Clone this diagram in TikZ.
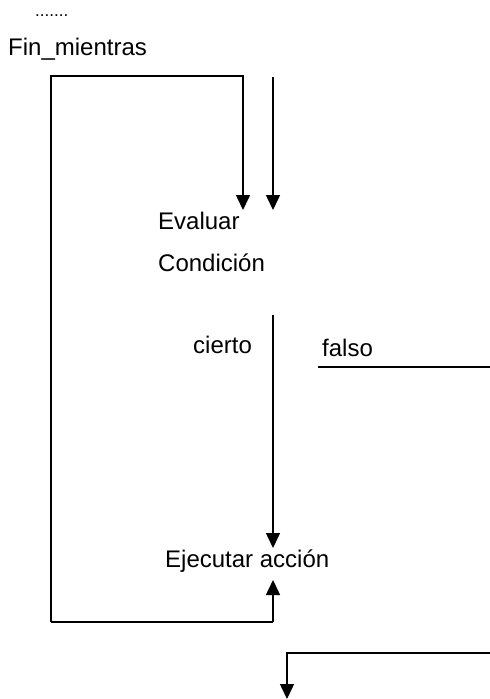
\documentclass[tikz,border=0pt]{standalone}
\usepackage{fontspec}
\setmainfont{Liberation Sans}
\usetikzlibrary{arrows.meta}
\begin{document}
\begin{tikzpicture}[x=1pt,y=-1pt,
  lbl/.style={anchor=base west,inner sep=0pt,font=\fontsize{24}{27}\selectfont},
  wire/.style={line width=1.5pt,line cap=butt},
  arr/.style={wire,-{Triangle[length=15pt,width=14pt]}}]
\useasboundingbox (0,0) rectangle (490,699);
\node[lbl,font=\fontsize{17}{19}\selectfont] (dots) at (35,16) {.......};
\node[lbl] (fin) at (8,55) {Fin\_mientras};
\node[lbl] (eval) at (158,229) {Evaluar};
\node[lbl] (cond) at (158,271) {Condición};
\node[lbl] (cierto) at (193,353) {cierto};
\node[lbl] (falso) at (322,356) {falso};
\node[lbl] (ejec) at (165,567) {Ejecutar acción};
% loop back
\coordinate (lbR) at (243,210);
\coordinate (lbTR) at (243,76);
\coordinate (lbTL) at (51,76);
\coordinate (lbBL) at (51,622);
\coordinate (lbBR) at (273,622);
\coordinate (upTip) at (273,580);
\draw[arr] (lbBR) -- (upTip);
\draw[arr] (lbBL) -- (lbTL) -- (lbTR) -- (lbR);
\draw[wire] (lbBL) -- (lbBR);
% entry
\coordinate (inTop) at (273,77);
\coordinate (inTip) at (273,210);
\draw[arr] (inTop) -- (inTip);
% true branch
\coordinate (tTop) at (273,315);
\coordinate (tTip) at (273,548);
\draw[arr] (tTop) -- (tTip);
% false branch
\coordinate (fL) at (318,367);
\coordinate (fR) at (490,367);
\draw[wire] (fL) -- (fR);
% exit
\coordinate (xR) at (490,653);
\coordinate (xC) at (287,653);
\coordinate (xTip) at (287,699);
\draw[arr] (xR) -- (xC) -- (xTip);
\end{tikzpicture}
\end{document}
